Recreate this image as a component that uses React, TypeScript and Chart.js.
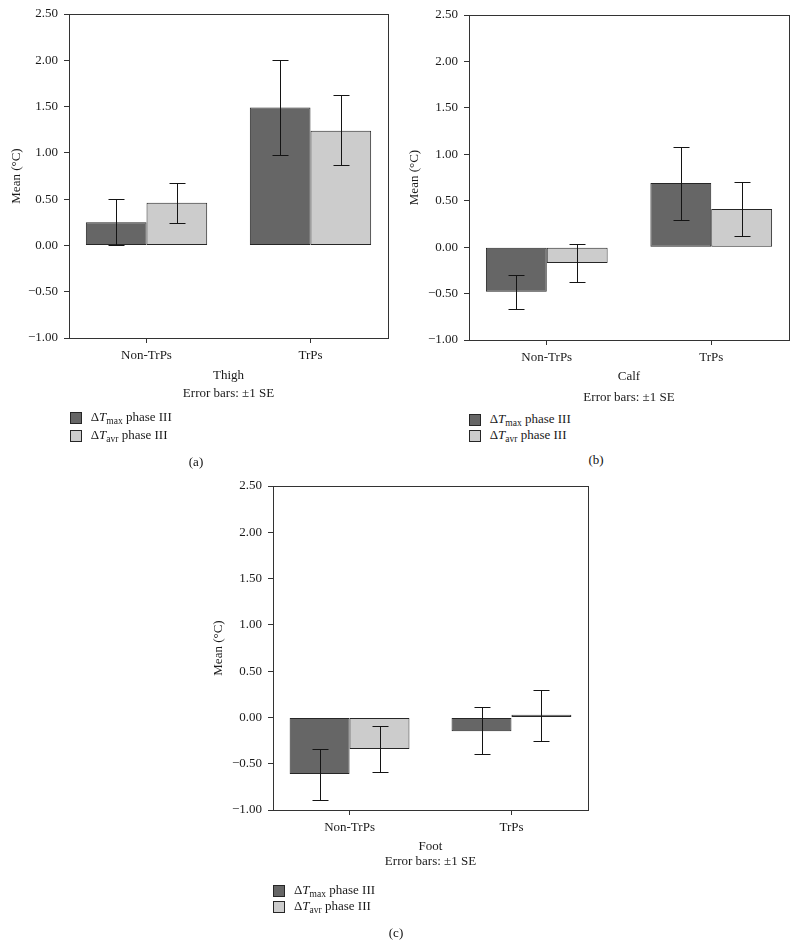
import React, { useEffect, useRef } from 'react';
import { Chart, registerables } from 'chart.js';

Chart.register(...registerables);

const FONT = '"Liberation Serif", "Times New Roman", serif';

const categories = ['Non-TrPs', 'TrPs'];
const yTicks = [-1, -0.5, 0, 0.5, 1, 1.5, 2, 2.5];

// (a) Thigh
const thighMax = [0.25, 1.49];
const thighMaxLo = [0.0, 0.98];
const thighMaxHi = [0.5, 2.0];
const thighAvr = [0.46, 1.24];
const thighAvrLo = [0.24, 0.87];
const thighAvrHi = [0.67, 1.62];

// (b) Calf
const calfMax = [-0.48, 0.69];
const calfMaxLo = [-0.67, 0.29];
const calfMaxHi = [-0.3, 1.08];
const calfAvr = [-0.17, 0.41];
const calfAvrLo = [-0.37, 0.12];
const calfAvrHi = [0.03, 0.7];

// (c) Foot
const footMax = [-0.61, -0.15];
const footMaxLo = [-0.89, -0.4];
const footMaxHi = [-0.34, 0.11];
const footAvr = [-0.34, 0.03];
const footAvrLo = [-0.59, -0.25];
const footAvrHi = [-0.09, 0.3];

const DARK = '#666666';
const LIGHT = '#cccccc';
const EDGE = '#262626';
const AXIS = '#333333';
const TEXT = '#1a1a1a';

type Cfg = {
  name: string;
  caption: string;
  left: number;
  top: number;
  width: number;
  height: number;
  area: { l: number; t: number; r: number; b: number };
  titleLH: number;
  titlePB: number;
  yTitlePad: number;
  max: number[];
  maxLo: number[];
  maxHi: number[];
  avr: number[];
  avrLo: number[];
  avrHi: number[];
  legend: { x: number; y1: number; y2: number };
  cap: { x: number; y: number };
};

const panels: Cfg[] = [
  {
    name: 'Thigh', caption: '(a)', left: 0, top: 0, width: 400, height: 410,
    area: { l: 69, t: 14, r: 388, b: 338 }, titleLH: 18, titlePB: 7.3, yTitlePad: 9.2,
    max: thighMax, maxLo: thighMaxLo, maxHi: thighMaxHi,
    avr: thighAvr, avrLo: thighAvrLo, avrHi: thighAvrHi,
    legend: { x: 70, y1: 412, y2: 430.5 }, cap: { x: 196, y: 462 },
  },
  {
    name: 'Calf', caption: '(b)', left: 400, top: 0, width: 398, height: 410,
    area: { l: 69, t: 15, r: 389, b: 340 }, titleLH: 20.7, titlePB: 1.95, yTitlePad: 7.2,
    max: calfMax, maxLo: calfMaxLo, maxHi: calfMaxHi,
    avr: calfAvr, avrLo: calfAvrLo, avrHi: calfAvrHi,
    legend: { x: 469, y1: 414, y2: 430.5 }, cap: { x: 596, y: 460 },
  },
  {
    name: 'Foot', caption: '(c)', left: 200, top: 470, width: 391, height: 410,
    area: { l: 73, t: 16, r: 388, b: 340 }, titleLH: 15, titlePB: 10.5, yTitlePad: 11.2,
    max: footMax, maxLo: footMaxLo, maxHi: footMaxHi,
    avr: footAvr, avrLo: footAvrLo, avrHi: footAvrHi,
    legend: { x: 273.3, y1: 885, y2: 901 }, cap: { x: 396, y: 933 },
  },
];

function fmt(v: number): string {
  const s = Math.abs(v).toFixed(2);
  return v < 0 ? '\u2212' + s : s;
}

function Panel({ cfg }: { cfg: Cfg }) {
  const ref = useRef<HTMLCanvasElement | null>(null);
  useEffect(() => {
    if (!ref.current) return;
    const lows = [cfg.maxLo, cfg.avrLo];
    const highs = [cfg.maxHi, cfg.avrHi];
    const errorBars = {
      id: 'errorBars' + cfg.name,
      afterDatasetsDraw(chart: any) {
        const ctx = chart.ctx;
        const ys = chart.scales.y;
        ctx.save();
        ctx.strokeStyle = '#141414';
        ctx.lineWidth = 1;
        for (let d = 0; d < 2; d++) {
          const meta = chart.getDatasetMeta(d);
          meta.data.forEach((el: any, i: number) => {
            const x = Math.round(el.x) + 0.5;
            const y1 = Math.round(ys.getPixelForValue(lows[d][i])) + 0.5;
            const y2 = Math.round(ys.getPixelForValue(highs[d][i])) + 0.5;
            ctx.beginPath();
            ctx.moveTo(x, y1);
            ctx.lineTo(x, y2);
            ctx.moveTo(x - 8, y1);
            ctx.lineTo(x + 8, y1);
            ctx.moveTo(x - 8, y2);
            ctx.lineTo(x + 8, y2);
            ctx.stroke();
          });
        }
        ctx.restore();
      },
    };
    const frame = {
      id: 'frame' + cfg.name,
      afterDraw(chart: any) {
        const { left, top, right, bottom } = chart.chartArea;
        const ctx = chart.ctx;
        ctx.save();
        ctx.strokeStyle = AXIS;
        ctx.lineWidth = 1;
        ctx.strokeRect(Math.round(left) + 0.5, Math.round(top) + 0.5, Math.round(right - left), Math.round(bottom - top));
        ctx.restore();
      },
    };
    const chart = new Chart(ref.current, {
      type: 'bar',
      data: {
        labels: categories,
        datasets: [
          { label: 'ΔTmax phase III', data: cfg.max, backgroundColor: DARK, borderColor: EDGE, borderWidth: 1, borderSkipped: false },
          { label: 'ΔTavr phase III', data: cfg.avr, backgroundColor: LIGHT, borderColor: EDGE, borderWidth: 1, borderSkipped: false },
        ],
      },
      options: {
        animation: false,
        responsive: false,
        events: [],
        datasets: { bar: { categoryPercentage: 0.74, barPercentage: 1.0 } },
        layout: { padding: { left: 0, top: cfg.area.t, right: cfg.width - cfg.area.r, bottom: 0 } },
        plugins: { legend: { display: false }, tooltip: { enabled: false }, title: { display: false } },
        scales: {
          x: {
            type: 'category',
            offset: true,
            afterFit: (s: any) => { s.height = cfg.height - cfg.area.b; },
            afterBuildTicks: (s: any) => {
              // categories sit a little further out than the default half-category offset
              s._valueRange = 1.9455;
              s._startValue = -0.4728;
            },
            grid: { display: true, drawOnChartArea: false, drawTicks: true, tickLength: 5, color: AXIS, offset: false },
            border: { display: true, color: AXIS },
            ticks: { color: TEXT, padding: 5, font: { family: FONT, size: 13 } },
            title: {
              display: true,
              text: [cfg.name, 'Error bars: ±1 SE'],
              color: TEXT,
              font: { family: FONT, size: 13, lineHeight: cfg.titleLH / 13 },
              padding: { top: 0, bottom: cfg.titlePB },
            },
          },
          y: {
            type: 'linear',
            min: -1,
            max: 2.5,
            afterFit: (s: any) => { s.width = cfg.area.l; },
            afterBuildTicks: (s: any) => { s.ticks = yTicks.map((v) => ({ value: v })); },
            grid: { display: true, drawOnChartArea: false, drawTicks: true, tickLength: 5, color: AXIS },
            border: { display: true, color: AXIS },
            ticks: { color: TEXT, padding: 6, font: { family: FONT, size: 13 }, callback: (v: any) => fmt(Number(v)) },
            title: {
              display: true,
              text: 'Mean (°C)',
              color: TEXT,
              font: { family: FONT, size: 13, lineHeight: 1.2 },
              padding: { top: cfg.yTitlePad, bottom: 0 },
            },
          },
        },
      },
      plugins: [errorBars, frame],
    } as any);
    return () => chart.destroy();
  }, [cfg]);

  const textStyle: React.CSSProperties = {
    position: 'absolute', left: 20.7, top: 0, lineHeight: '18px', fontSize: 13,
    fontFamily: FONT, color: TEXT, whiteSpace: 'nowrap',
  };
  const box = (fill: string): React.CSSProperties => ({
    position: 'absolute', left: 0, top: 4.4, width: 12, height: 12, boxSizing: 'border-box',
    border: '1px solid ' + EDGE, background: fill,
  });
  const sub: React.CSSProperties = { fontSize: 9.5, position: 'relative', top: 3, fontStyle: 'normal' };
  const row = (y: number): React.CSSProperties => ({
    position: 'absolute', left: cfg.legend.x, top: y - 4.4, height: 18, width: 130,
  });

  return (
    <>
      <canvas
        ref={ref}
        width={cfg.width}
        height={cfg.height}
        style={{ position: 'absolute', left: cfg.left, top: cfg.top, width: cfg.width, height: cfg.height }}
      />
      <div style={row(cfg.legend.y1)}>
        <div style={box(DARK)} />
        <div style={textStyle}>
          Δ<i>T</i><span style={sub}>max</span> phase III
        </div>
      </div>
      <div style={row(cfg.legend.y2)}>
        <div style={box(LIGHT)} />
        <div style={textStyle}>
          Δ<i>T</i><span style={sub}>avr</span> phase III
        </div>
      </div>
      <span
        style={{
          position: 'absolute', left: cfg.cap.x - 10, top: cfg.cap.y - 9, width: 20, textAlign: 'center',
          lineHeight: '18px', fontSize: 13, fontFamily: FONT, color: '#111111', display: 'block',
        }}
      >
        {cfg.caption}
      </span>
    </>
  );
}

export default function App() {
  return (
    <div style={{ position: 'absolute', left: 0, top: 0, width: 798, height: 947, background: '#fff', overflow: 'hidden' }}>
      {panels.map((p) => (
        <Panel key={p.name} cfg={p} />
      ))}
    </div>
  );
}
